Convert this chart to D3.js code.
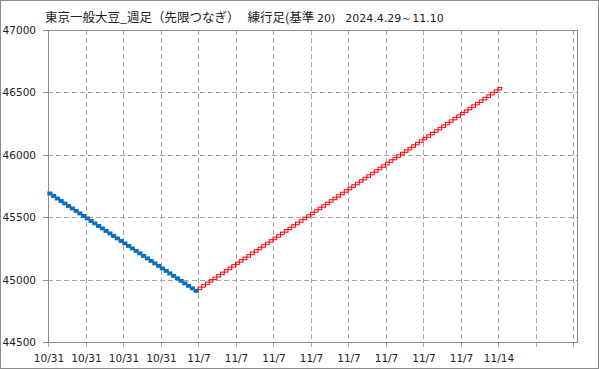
<!DOCTYPE html>
<html>
<body style="margin:0">
<meta charset="UTF-8">
<title>練行足</title>
<style>
    body { margin: 0; background: #fff; }
    text { font-family: "DejaVu Sans", sans-serif; fill: #222; }
    .jp { font-family: "Noto Sans CJK JP", sans-serif; }
</style>
<div id="chart"></div>
<script src="https://d3js.org/d3.v7.min.js"></script>
<script>

    // box size (基準) in yen
    var boxSize = 20;

    // falling boxes (blue), low of each box, in column order
    var fallLows = [45680, 45660, 45640, 45620, 45600, 45580, 45560, 45540, 45520, 45500,
                    45480, 45460, 45440, 45420, 45400, 45380, 45360, 45340, 45320, 45300,
                    45280, 45260, 45240, 45220, 45200, 45180, 45160, 45140, 45120, 45100,
                    45080, 45060, 45040, 45020, 45000, 44980, 44960, 44940, 44920, 44900];

    // rising boxes (red), low of each box, in column order
    var riseLows = [44920, 44940, 44960, 44980,
                    45000, 45020, 45040, 45060, 45080, 45100, 45120, 45140, 45160, 45180,
                    45200, 45220, 45240, 45260, 45280, 45300, 45320, 45340, 45360, 45380,
                    45400, 45420, 45440, 45460, 45480, 45500, 45520, 45540, 45560, 45580,
                    45600, 45620, 45640, 45660, 45680, 45700, 45720, 45740, 45760, 45780,
                    45800, 45820, 45840, 45860, 45880, 45900, 45920, 45940, 45960, 45980,
                    46000, 46020, 46040, 46060, 46080, 46100, 46120, 46140, 46160, 46180,
                    46200, 46220, 46240, 46260, 46280, 46300, 46320, 46340, 46360, 46380,
                    46400, 46420, 46440, 46460, 46480, 46500, 46520];

    var yTicks = [44500, 45000, 45500, 46000, 46500, 47000];
    var xTickCols = [0, 10, 20, 30, 40, 50, 60, 70, 80, 90, 100, 110, 120, 130, 140];
    var xTickLabels = ["10/31", "10/31", "10/31", "10/31", "11/7", "11/7", "11/7", "11/7",
                       "11/7", "11/7", "11/7", "11/7", "11/14", "", ""];

    var width = 599,
        height = 369;

    var svg = d3.select("#chart")
        .append("svg")
        .attr("width", width)
        .attr("height", height);

    var plotLeft = 48, plotRight = 577, plotTop = 30, plotBottom = 342;

    var x = d3.scaleLinear().domain([0, 141]).range([plotLeft, plotLeft + 141 * 3.75]);
    var y = d3.scaleLinear().domain([44500, 47000]).range([plotBottom, plotTop]);

    // outer border
    svg.append("rect")
        .attr("x", 0.5).attr("y", 0.5)
        .attr("width", width - 1).attr("height", height - 1)
        .attr("fill", "#fff")
        .attr("stroke", "#8c8c8c");

    var grid = svg.append("g");

    // horizontal grid
    grid.selectAll(".hgrid")
        .data(yTicks)
        .enter().append("line")
        .attr("x1", plotLeft).attr("x2", plotRight)
        .attr("y1", function(d) { return Math.round(y(d)) + 0.5; })
        .attr("y2", function(d) { return Math.round(y(d)) + 0.5; })
        .attr("stroke", "#a6a6a6")
        .attr("stroke-dasharray", "5,3");

    // vertical grid, running a bit below the frame as ticks
    grid.selectAll(".vgrid")
        .data(xTickCols)
        .enter().append("line")
        .attr("x1", function(d) { return Math.round(x(d)) + 0.5; })
        .attr("x2", function(d) { return Math.round(x(d)) + 0.5; })
        .attr("y1", plotTop).attr("y2", plotBottom + 5)
        .attr("stroke", "#a6a6a6")
        .attr("stroke-dasharray", "5,3");

    // frame
    svg.append("rect")
        .attr("x", plotLeft + 0.5).attr("y", plotTop + 0.5)
        .attr("width", plotRight - plotLeft).attr("height", plotBottom - plotTop)
        .attr("fill", "none")
        .attr("stroke", "#8c8c8c");

    // y ticks and labels
    svg.selectAll(".ytick")
        .data(yTicks)
        .enter().append("line")
        .attr("x1", plotLeft - 5).attr("x2", plotLeft)
        .attr("y1", function(d) { return Math.round(y(d)) + 0.5; })
        .attr("y2", function(d) { return Math.round(y(d)) + 0.5; })
        .attr("stroke", "#8c8c8c");

    svg.selectAll(".ylabel")
        .data(yTicks)
        .enter().append("text")
        .attr("x", 36)
        .attr("y", function(d) { return y(d) + 4; })
        .attr("text-anchor", "end")
        .style("font-size", "10.5px")
        .text(function(d) { return d; });

    // x labels
    svg.selectAll(".xlabel")
        .data(xTickCols)
        .enter().append("text")
        .attr("x", function(d) { return x(d) + 1; })
        .attr("y", 362)
        .attr("text-anchor", "middle")
        .style("font-size", "10.5px")
        .text(function(d, i) { return xTickLabels[i]; });

    // boxes
    var boxes = svg.append("g");

    boxes.selectAll(".fall")
        .data(fallLows)
        .enter().append("rect")
        .attr("x", function(d, i) { return x(i); })
        .attr("y", function(d) { return y(d + boxSize); })
        .attr("width", x(1) - x(0))
        .attr("height", function(d) { return y(d) - y(d + boxSize); })
        .attr("fill", "#0a70c0")
        .attr("stroke", "#0a70c0")
        .attr("stroke-width", 1.4);

    boxes.selectAll(".rise")
        .data(riseLows)
        .enter().append("rect")
        .attr("x", function(d, i) { return x(fallLows.length + i); })
        .attr("y", function(d) { return y(d + boxSize); })
        .attr("width", x(1) - x(0))
        .attr("height", function(d) { return y(d) - y(d + boxSize); })
        .attr("fill", "none")
        .attr("stroke", "#ff0000")
        .attr("stroke-width", 1);

    // title
    var title = svg.append("text")
        .attr("x", 45)
        .attr("y", 22)
        .attr("class", "jp")
        .style("font-size", "12.5px");
    title.append("tspan").text("東京一般大豆_週足（先限つなぎ）");
    title.append("tspan").attr("dx", 8).text("練行足(基準 ");
    title.append("tspan").style("font-size", "11px").style("font-family", "DejaVu Sans").text("20)");
    title.append("tspan").attr("dx", 10).style("font-size", "11px").style("font-family", "DejaVu Sans").text("2024.4.29～11.10");

</script>
</body>
</html>
